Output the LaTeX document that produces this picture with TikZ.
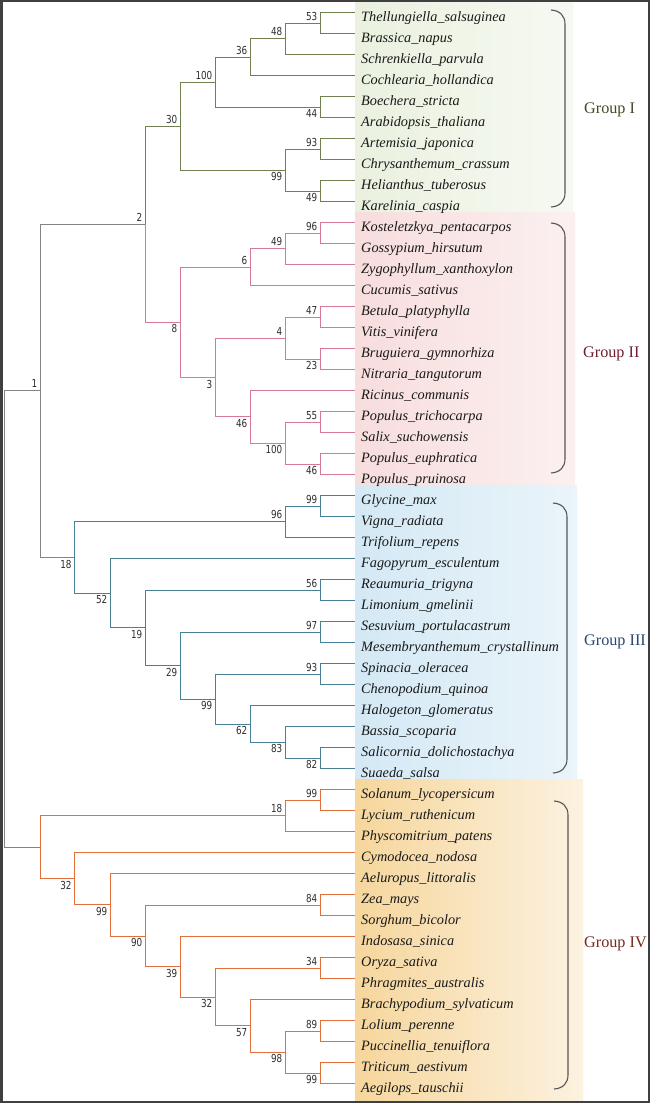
\documentclass[tikz,border=0pt]{standalone}
\usepackage{fontspec}
\setmainfont{Liberation Serif}
\newfontfamily\numfont[FakeStretch=0.8]{DejaVu Sans}
\definecolor{cI}{RGB}{112,128,78}
\definecolor{cII}{RGB}{214,122,150}
\definecolor{cIII}{RGB}{72,128,152}
\definecolor{cIV}{RGB}{226,112,58}
\definecolor{cG}{RGB}{132,132,132}
\definecolor{pIa}{RGB}{234,241,223}
\definecolor{pIb}{RGB}{246,249,242}
\definecolor{pIIa}{RGB}{248,221,221}
\definecolor{pIIb}{RGB}{251,240,240}
\definecolor{pIIIa}{RGB}{212,233,245}
\definecolor{pIIIb}{RGB}{234,244,250}
\definecolor{pIVa}{RGB}{246,214,156}
\definecolor{pIVb}{RGB}{252,242,224}
\definecolor{gIt}{RGB}{72,72,40}
\definecolor{gIIt}{RGB}{112,30,48}
\definecolor{gIIIt}{RGB}{40,70,112}
\definecolor{gIVt}{RGB}{122,40,30}
\definecolor{numc}{RGB}{45,45,45}
\definecolor{txt}{RGB}{25,25,25}
\definecolor{brkc}{RGB}{85,85,85}
\definecolor{frame}{RGB}{64,64,64}
\begin{document}
\begin{tikzpicture}[x=1pt,y=-1pt,
  br/.style={line width=1pt},
  brI/.style={br,draw=cI},
  brII/.style={br,draw=cII},
  brIII/.style={br,draw=cIII},
  brIV/.style={br,draw=cIV},
  brG/.style={br,draw=cG},
  leaf/.style={anchor=base west,inner sep=0pt,font=\fontsize{14.3}{16}\selectfont\itshape,text=txt},
  bsu/.style={anchor=east,inner sep=0pt,xshift=-2.5pt,yshift=7pt,font=\numfont\fontsize{11}{12}\selectfont,text=numc},
  bsd/.style={anchor=east,inner sep=0pt,xshift=-2.5pt,yshift=-6.5pt,font=\numfont\fontsize{11}{12}\selectfont,text=numc},
  grp/.style={anchor=base west,inner sep=0pt,font=\fontsize{16.2}{18}\selectfont},
  brk/.style={line width=1.1pt,draw=brkc}
]
\useasboundingbox (0,0) rectangle (650,1103);
\fill[white] (0,0) rectangle (650,1103);
% group panels
\shade[left color=pIa,right color=pIb] (355,2) rectangle (573,212.2);
\shade[left color=pIIa,right color=pIIb] (355,212.2) rectangle (575,485.2);
\shade[left color=pIIIa,right color=pIIIb] (355,485.2) rectangle (577,779.2);
\shade[left color=pIVa,right color=pIVb] (355,779.2) rectangle (583,1101);
% leaves
\foreach \n [count=\i from 0] in {Thellungiella\_salsuginea,Brassica\_napus,Schrenkiella\_parvula,Cochlearia\_hollandica,Boechera\_stricta,Arabidopsis\_thaliana,Artemisia\_japonica,Chrysanthemum\_crassum,Helianthus\_tuberosus,Karelinia\_caspia,Kosteletzkya\_pentacarpos,Gossypium\_hirsutum,Zygophyllum\_xanthoxylon,Cucumis\_sativus,Betula\_platyphylla,Vitis\_vinifera,Bruguiera\_gymnorhiza,Nitraria\_tangutorum,Ricinus\_communis,Populus\_trichocarpa,Salix\_suchowensis,Populus\_euphratica,Populus\_pruinosa,Glycine\_max,Vigna\_radiata,Trifolium\_repens,Fagopyrum\_esculentum,Reaumuria\_trigyna,Limonium\_gmelinii,Sesuvium\_portulacastrum,Mesembryanthemum\_crystallinum,Spinacia\_oleracea,Chenopodium\_quinoa,Halogeton\_glomeratus,Bassia\_scoparia,Salicornia\_dolichostachya,Suaeda\_salsa,Solanum\_lycopersicum,Lycium\_ruthenicum,Physcomitrium\_patens,Cymodocea\_nodosa,Aeluropus\_littoralis,Zea\_mays,Sorghum\_bicolor,Indosasa\_sinica,Oryza\_sativa,Phragmites\_australis,Brachypodium\_sylvaticum,Lolium\_perenne,Puccinellia\_tenuiflora,Triticum\_aestivum,Aegilops\_tauschii}{
  \coordinate (l\i) at (355,{12.7+21*\i});
  \node[leaf] (t\i) at (361,{12.7+21*\i+8.5}) {\n};
}
% internal nodes: group I
\coordinate (a53) at (320,23.2);
\coordinate (a48) at (285,38.95);
\coordinate (a36) at (250,57.3);
\coordinate (a44) at (320,107.2);
\coordinate (a100) at (215,82.25);
\coordinate (a93) at (320,149.2);
\coordinate (a49) at (320,191.2);
\coordinate (a99) at (285,170.2);
\coordinate (a30) at (180,126.2);
% group II
\coordinate (b96) at (320,233.2);
\coordinate (b49) at (285,248.95);
\coordinate (b6) at (250,267.3);
\coordinate (b47) at (320,317.2);
\coordinate (b23) at (320,359.2);
\coordinate (b4) at (285,338.2);
\coordinate (b55) at (320,422.2);
\coordinate (b46s) at (320,464.2);
\coordinate (b100) at (285,443.2);
\coordinate (b46) at (250,416.95);
\coordinate (b3) at (215,377.6);
\coordinate (b8) at (180,322.45);
\coordinate (n2) at (145,224.3);
% group III
\coordinate (c99) at (320,506.2);
\coordinate (c96) at (285,521.95);
\coordinate (c56) at (320,590.2);
\coordinate (c97) at (320,632.2);
\coordinate (c93) at (320,674.2);
\coordinate (c82) at (320,758.2);
\coordinate (c83) at (285,742.45);
\coordinate (c62) at (250,724.1);
\coordinate (c99b) at (215,699.15);
\coordinate (c29) at (180,665.7);
\coordinate (c19) at (145,627.95);
\coordinate (c52) at (110,593.3);
\coordinate (c18) at (74.3,557.6);
\coordinate (n1) at (40,390.95);
% group IV
\coordinate (d99) at (320,800.2);
\coordinate (d18) at (285,815.95);
\coordinate (d84) at (320,905.2);
\coordinate (d34) at (320,968.2);
\coordinate (d89) at (320,1031.2);
\coordinate (d99b) at (320,1073.2);
\coordinate (d98) at (285,1052.2);
\coordinate (d57) at (250,1025.95);
\coordinate (d32b) at (215,997.1);
\coordinate (d39) at (180,966.9);
\coordinate (d90) at (145,936.05);
\coordinate (d99c) at (110,904.9);
\coordinate (d32) at (74.3,878.8);
\coordinate (n4) at (40,847.4);
\coordinate (root) at (4.6,619.2);
% branches group I
\foreach \p/\c in {a53/l0,a53/l1,a48/a53,a48/l2,a36/a48,a36/l3,a44/l4,a44/l5,a100/a36,a100/a44,a93/l6,a93/l7,a49/l8,a49/l9,a99/a93,a99/a49,a30/a100,a30/a99,n2/a30}
  \draw[brI] (\p) |- (\c);
% branches group II
\foreach \p/\c in {b96/l10,b96/l11,b49/b96,b49/l12,b6/b49,b6/l13,b47/l14,b47/l15,b23/l16,b23/l17,b4/b47,b4/b23,b55/l19,b55/l20,b46s/l21,b46s/l22,b100/b55,b100/b46s,b46/l18,b46/b100,b3/b4,b3/b46,b8/b6,b8/b3,n2/b8}
  \draw[brII] (\p) |- (\c);
% branches group III
\foreach \p/\c in {c99/l23,c99/l24,c96/c99,c96/l25,c56/l27,c56/l28,c97/l29,c97/l30,c93/l31,c93/l32,c82/l35,c82/l36,c83/l34,c83/c82,c62/l33,c62/c83,c99b/c93,c99b/c62,c29/c97,c29/c99b,c19/c56,c19/c29,c52/l26,c52/c19,c18/c96,c18/c52}
  \draw[brIII] (\p) |- (\c);
% branches group IV
\foreach \p/\c in {d99/l37,d99/l38,d18/d99,d18/l39,d84/l42,d84/l43,d34/l45,d34/l46,d89/l48,d89/l49,d99b/l50,d99b/l51,d98/d89,d98/d99b,d57/l47,d57/d98,d32b/d34,d32b/d57,d39/l44,d39/d32b,d90/d84,d90/d39,d99c/l41,d99c/d90,d32/l40,d32/d99c,n4/d18,n4/d32}
  \draw[brIV] (\p) |- (\c);
% backbone
\foreach \p/\c in {n1/n2,n1/c18,root/n1,root/n4}
  \draw[brG] (\p) |- (\c);
% bootstrap values
\foreach \p/\v in {a53/53,a48/48,a36/36,a100/100,a30/30,n2/2,a93/93,b96/96,b49/49,b6/6,b47/47,b4/4,b55/55,n1/1,c99/99,c96/96,c56/56,c97/97,c93/93,d99/99,d18/18,d84/84,d34/34,d89/89}
  \node[bsu] (v\p) at (\p) {\v};
\foreach \p/\v in {a44/44,a99/99,a49/49,b23/23,b3/3,b8/8,b46/46,b100/100,b46s/46,c18/18,c52/52,c19/19,c29/29,c99b/99,c62/62,c83/83,c82/82,d99b/99,d98/98,d57/57,d32b/32,d39/39,d90/90,d99c/99,d32/32}
  \node[bsd] (v\p) at (\p) {\v};
% brackets
\draw[brk] (551,10) .. controls (560,10.5) and (565,16) .. (565,24) -- (565,193) .. controls (565,201) and (560,206.5) .. (551,207);
\draw[brk] (551,223) .. controls (560,223.5) and (565,229) .. (565,237) -- (565,459) .. controls (565,467) and (560,472.5) .. (551,473);
\draw[brk] (553,503) .. controls (562,503.5) and (567,509) .. (567,517) -- (567,759) .. controls (567,767) and (562,772.5) .. (553,773);
\draw[brk] (554,801) .. controls (563,801.5) and (568,807) .. (568,815) -- (568,1075) .. controls (568,1083) and (563,1088.5) .. (554,1089);
% group labels
\node[grp,text=gIt] (gI) at (584,113.5) {Group I};
\node[grp,text=gIIt] (gII) at (583,357) {Group II};
\node[grp,text=gIIIt] (gIII) at (584,645) {Group III};
\node[grp,text=gIVt] (gIV) at (584,947) {Group IV};
% frame
\draw[frame,line width=2pt] (1,1) rectangle (649,1102);
\draw[frame,line width=3pt] (1.5,0) -- (1.5,1103);
\end{tikzpicture}
\end{document}
